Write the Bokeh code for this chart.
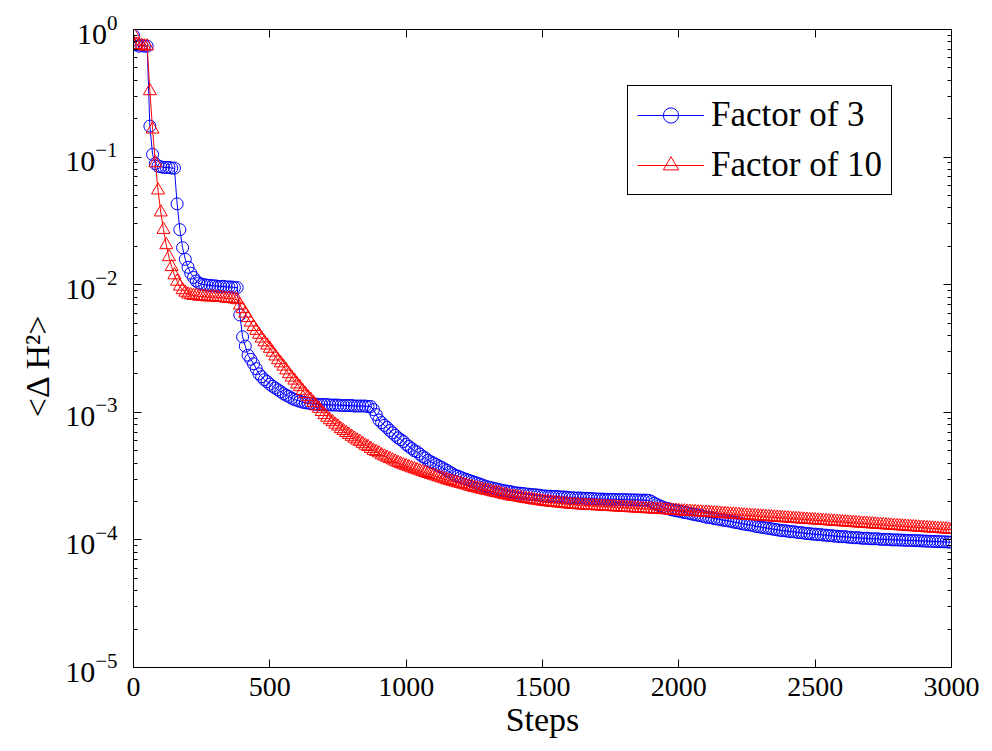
from bokeh.plotting import figure
from bokeh.models import (FixedTicker, LinearAxis, LogAxis, Legend, LegendItem,
                          CustomJSTickFormatter, Range1d)
from bokeh.embed import file_html
from bokeh.resources import INLINE

steps = list(range(0, 3001, 10))

factor3 = [
    0.90, 0.76, 0.74, 0.75, 0.74, 0.74, 0.175, 0.105, 0.089, 0.085,
    0.084, 0.083, 0.083, 0.083, 0.082, 0.082, 0.043, 0.027, 0.0195, 0.0158,
    0.0137, 0.0123, 0.0114, 0.0107, 0.0103, 0.0101, 0.0100, 0.0099, 0.0099, 0.0098,
    0.0098, 0.0097, 0.0097, 0.0097, 0.0096, 0.0096, 0.0096, 0.0095, 0.0095, 0.0058,
    0.0039, 0.0033, 0.0028, 0.0026, 0.0024, 0.0022, 0.0020, 0.0019, 0.0018, 0.00174,
    0.00166, 0.00160, 0.00155, 0.00150, 0.00145, 0.00140, 0.00136, 0.00133, 0.00129, 0.00126,
    0.00124, 0.00122, 0.00120, 0.00119, 0.00118, 0.00117, 0.00116, 0.00116, 0.00115, 0.00115,
    0.00115, 0.00115, 0.00114, 0.00114, 0.00114, 0.00114, 0.00113, 0.00113, 0.00113, 0.00113,
    0.00113, 0.00112, 0.00112, 0.00112, 0.00112, 0.00112, 0.00111, 0.00111, 0.00105, 0.00096,
    0.00087, 0.00083, 0.00079, 0.00076, 0.00072, 0.00069, 0.00066, 0.00063, 0.00061, 0.00059,
    0.00056, 0.00054, 0.00052, 0.00050, 0.00049, 0.00047, 0.00045, 0.00044, 0.00042, 0.00041,
    0.00040, 0.00039, 0.00038, 0.00037, 0.00036, 0.00035, 0.00034, 0.00033, 0.00032, 0.000316,
    0.000309, 0.000303, 0.000298, 0.000293, 0.000288, 0.000283, 0.000279, 0.000274, 0.000269, 0.000264,
    0.000260, 0.000257, 0.000254, 0.000251, 0.000248, 0.000245, 0.000243, 0.000241, 0.000239, 0.000237,
    0.000234, 0.000233, 0.000232, 0.000231, 0.000229, 0.000228, 0.000227, 0.000226, 0.000225, 0.000224,
    0.000221, 0.000221, 0.000220, 0.000220, 0.000219, 0.000219, 0.000218, 0.000217, 0.000217, 0.000216,
    0.000214, 0.000214, 0.000213, 0.000213, 0.000213, 0.000212, 0.000212, 0.000211, 0.000211, 0.000210,
    0.000209, 0.000209, 0.000209, 0.000208, 0.000208, 0.000208, 0.000208, 0.000207, 0.000207, 0.000207,
    0.000207, 0.000206, 0.000206, 0.000206, 0.000206, 0.000205, 0.000205, 0.000205, 0.000205, 0.000204,
    0.000200, 0.000194, 0.000189, 0.000185, 0.000181, 0.000178, 0.000176, 0.000173, 0.000171, 0.000169,
    0.000168, 0.000166, 0.000164, 0.000163, 0.000161, 0.000159, 0.000158, 0.000156, 0.000155, 0.000153,
    0.000151, 0.000150, 0.000149, 0.000147, 0.000146, 0.000145, 0.000143, 0.000142, 0.000141, 0.000140,
    0.000138, 0.000137, 0.000136, 0.000134, 0.000133, 0.000132, 0.000131, 0.000130, 0.000128, 0.000127,
    0.000126, 0.000125, 0.000124, 0.000123, 0.000122, 0.000121, 0.000120, 0.000119, 0.000118, 0.000118,
    0.000117, 0.000116, 0.000116, 0.000115, 0.000114, 0.000114, 0.000113, 0.000112, 0.000112, 0.000111,
    0.000111, 0.000110, 0.000110, 0.000109, 0.000109, 0.000108, 0.000108, 0.000107, 0.000107, 0.000106,
    0.000106, 0.000106, 0.000105, 0.000105, 0.000104, 0.000104, 0.000104, 0.000103, 0.000103, 0.000103,
    0.000102, 0.000102, 0.000102, 0.000102, 0.000101, 0.000101, 0.000101, 0.000101, 0.000100, 0.000100,
    0.000100, 0.0000998, 0.0000996, 0.0000994, 0.0000992, 0.0000990, 0.0000988, 0.0000986, 0.0000984, 0.0000982,
    0.0000980, 0.0000978, 0.0000976, 0.0000974, 0.0000972, 0.0000970, 0.0000968, 0.0000966, 0.0000964, 0.0000962,
    0.0000960,
]

factor10 = [
    0.92, 0.76, 0.75, 0.75, 0.74, 0.74, 0.33, 0.165, 0.090, 0.055,
    0.037, 0.027, 0.0205, 0.0165, 0.0138, 0.0119, 0.0106, 0.0097, 0.0091, 0.0087,
    0.0084, 0.0083, 0.0082, 0.0082, 0.0081, 0.0081, 0.0081, 0.0080, 0.0080, 0.0080,
    0.0080, 0.0079, 0.0079, 0.0079, 0.0078, 0.0078, 0.0078, 0.0077, 0.0076, 0.0069,
    0.00646, 0.00596, 0.00550, 0.00507, 0.00468, 0.00437, 0.00407, 0.00380, 0.00355, 0.00335,
    0.00316, 0.00295, 0.00275, 0.00257, 0.00243, 0.00229, 0.00214, 0.00200, 0.00188, 0.00178,
    0.00166, 0.00158, 0.00148, 0.00140, 0.00132, 0.00126, 0.00119, 0.00112, 0.00107, 0.00101,
    0.000955, 0.000912, 0.000871, 0.000841, 0.000804, 0.000776, 0.000741, 0.000716, 0.000692, 0.000668,
    0.000646, 0.000624, 0.000603, 0.000589, 0.000569, 0.000550, 0.000537, 0.000519, 0.000501, 0.000490,
    0.000479, 0.000462, 0.000452, 0.000442, 0.000432, 0.000422, 0.000412, 0.000403, 0.000394, 0.000386,
    0.000380, 0.000373, 0.000366, 0.000360, 0.000353, 0.000347, 0.000341, 0.000336, 0.000330, 0.000325,
    0.000320, 0.000315, 0.000310, 0.000305, 0.000300, 0.000295, 0.000291, 0.000287, 0.000283, 0.000279,
    0.000275, 0.000272, 0.000268, 0.000264, 0.000261, 0.000257, 0.000254, 0.000251, 0.000248, 0.000245,
    0.000243, 0.000240, 0.000237, 0.000234, 0.000232, 0.000229, 0.000226, 0.000224, 0.000221, 0.000219,
    0.000218, 0.000216, 0.000214, 0.000212, 0.000210, 0.000209, 0.000207, 0.000205, 0.000204, 0.000202,
    0.000201, 0.000199, 0.000198, 0.000197, 0.000196, 0.000195, 0.000194, 0.000193, 0.000192, 0.000191,
    0.000190, 0.000189, 0.000189, 0.000188, 0.000187, 0.000187, 0.000186, 0.000186, 0.000185, 0.000185,
    0.000184, 0.000184, 0.000183, 0.000183, 0.000182, 0.000182, 0.000181, 0.000181, 0.000180, 0.000180,
    0.000179, 0.000179, 0.000178, 0.000178, 0.000177, 0.000177, 0.000176, 0.000176, 0.000175, 0.000175,
    0.000174, 0.000174, 0.000173, 0.000173, 0.000172, 0.000172, 0.000171, 0.000171, 0.000170, 0.000170,
    0.000169, 0.000168, 0.000168, 0.000167, 0.000167, 0.000166, 0.000166, 0.000165, 0.000165, 0.000164,
    0.0001640, 0.0001634, 0.0001629, 0.0001623, 0.0001617, 0.0001612, 0.0001606, 0.0001601, 0.0001595, 0.0001589,
    0.0001584, 0.0001578, 0.0001573, 0.0001567, 0.0001562, 0.0001557, 0.0001551, 0.0001546, 0.0001541, 0.0001535,
    0.0001530, 0.0001525, 0.0001520, 0.0001514, 0.0001509, 0.0001504, 0.0001499, 0.0001494, 0.0001489, 0.0001484,
    0.0001478, 0.0001473, 0.0001468, 0.0001463, 0.0001458, 0.0001453, 0.0001448, 0.0001443, 0.0001438, 0.0001434,
    0.0001429, 0.0001424, 0.0001419, 0.0001414, 0.0001409, 0.0001404, 0.0001400, 0.0001395, 0.0001390, 0.0001385,
    0.0001381, 0.0001376, 0.0001371, 0.0001366, 0.0001362, 0.0001357, 0.0001352, 0.0001348, 0.0001343, 0.0001339,
    0.0001334, 0.0001329, 0.0001325, 0.0001320, 0.0001316, 0.0001311, 0.0001307, 0.0001302, 0.0001298, 0.0001294,
    0.0001289, 0.0001285, 0.0001280, 0.0001276, 0.0001272, 0.0001267, 0.0001263, 0.0001259, 0.0001254, 0.0001250,
    0.0001246, 0.0001241, 0.0001237, 0.0001233, 0.0001229, 0.0001225, 0.0001220, 0.0001216, 0.0001212, 0.0001208,
    0.0001204,
]

x_ticks = [0, 500, 1000, 1500, 2000, 2500, 3000]
y_ticks = [1e-5, 1e-4, 1e-3, 1e-2, 1e-1, 1.0]
y_minor = [m * d for d in y_ticks[:-1] for m in range(2, 10)]

label3 = "Factor of 3"
label10 = "Factor of 10"
x_label = "Steps"
y_label = "<\u0394 H\u00b2>" + "\u00a0" * 4

FONT = "Liberation Serif"
BLUE = "#0000ff"
RED = "#ff0000"

p = figure(frame_width=818, frame_height=638, y_axis_type="log",
           x_range=Range1d(0, 3000), y_range=Range1d(1e-5, 1.0),
           output_backend="svg", toolbar_location=None,
           min_border_left=133, min_border_right=33, min_border_top=29,
           min_border_bottom=70, background_fill_color="white",
           border_fill_color="white")

p.xgrid.grid_line_color = None
p.ygrid.grid_line_color = None
p.outline_line_color = "black"
p.outline_line_width = 1

l3 = p.line(steps, factor3, line_color=BLUE, line_width=1)
s3 = p.scatter(steps, factor3, marker="circle", size=12, fill_color=None,
               line_color=BLUE, line_width=1)
l10 = p.line(steps, factor10, line_color=RED, line_width=1)
s10 = p.scatter(steps, factor10, marker="triangle", size=13, fill_color=None,
                line_color=RED, line_width=1)

xt = FixedTicker(ticks=x_ticks, minor_ticks=[])
yt = FixedTicker(ticks=y_ticks, minor_ticks=y_minor)

def style_axis(ax, size):
    ax.axis_line_color = "black"
    ax.axis_line_width = 1
    ax.major_tick_line_color = "black"
    ax.minor_tick_line_color = "black"
    ax.major_tick_in = 8
    ax.major_tick_out = 0
    ax.minor_tick_in = 4
    ax.minor_tick_out = 0
    ax.major_label_text_font = FONT
    ax.major_label_text_font_size = size
    ax.major_label_text_color = "black"
    ax.axis_label_text_font = FONT
    ax.axis_label_text_font_style = "normal"
    ax.axis_label_text_color = "black"
    ax.axis_label_text_font_size = "34px"

xa = p.xaxis[0]
xa.ticker = xt
style_axis(xa, "28px")
xa.major_label_standoff = 10
xa.axis_label = x_label
xa.axis_label_standoff = 2

ya = p.yaxis[0]
ya.ticker = yt
style_axis(ya, "30px")
ya.major_label_standoff = 16
ya.axis_label = y_label
ya.axis_label_standoff = 6

empty = CustomJSTickFormatter(code="return ''")
top = LinearAxis(ticker=xt, formatter=empty)
style_axis(top, "10px")
top.major_label_standoff = 0
p.add_layout(top, "above")
right = LogAxis(ticker=yt, formatter=CustomJSTickFormatter(code="return ''"))
style_axis(right, "10px")
right.major_label_standoff = 0
p.add_layout(right, "right")

legend = Legend(items=[LegendItem(label=label3, renderers=[l3, s3]),
                       LegendItem(label=label10, renderers=[l10, s10])],
                location=(494, 472))
legend.label_text_font = FONT
legend.label_text_font_size = "35px"
legend.label_text_color = "black"
legend.glyph_width = 67
legend.glyph_height = 38
legend.label_height = 38
legend.label_standoff = 7
legend.spacing = 10
legend.padding = 9
legend.margin = 0
legend.border_line_color = "black"
legend.border_line_width = 1
legend.border_line_alpha = 1
legend.background_fill_color = "white"
legend.background_fill_alpha = 1
p.add_layout(legend, "center")

open("out.html", "w").write(file_html(p, INLINE))
